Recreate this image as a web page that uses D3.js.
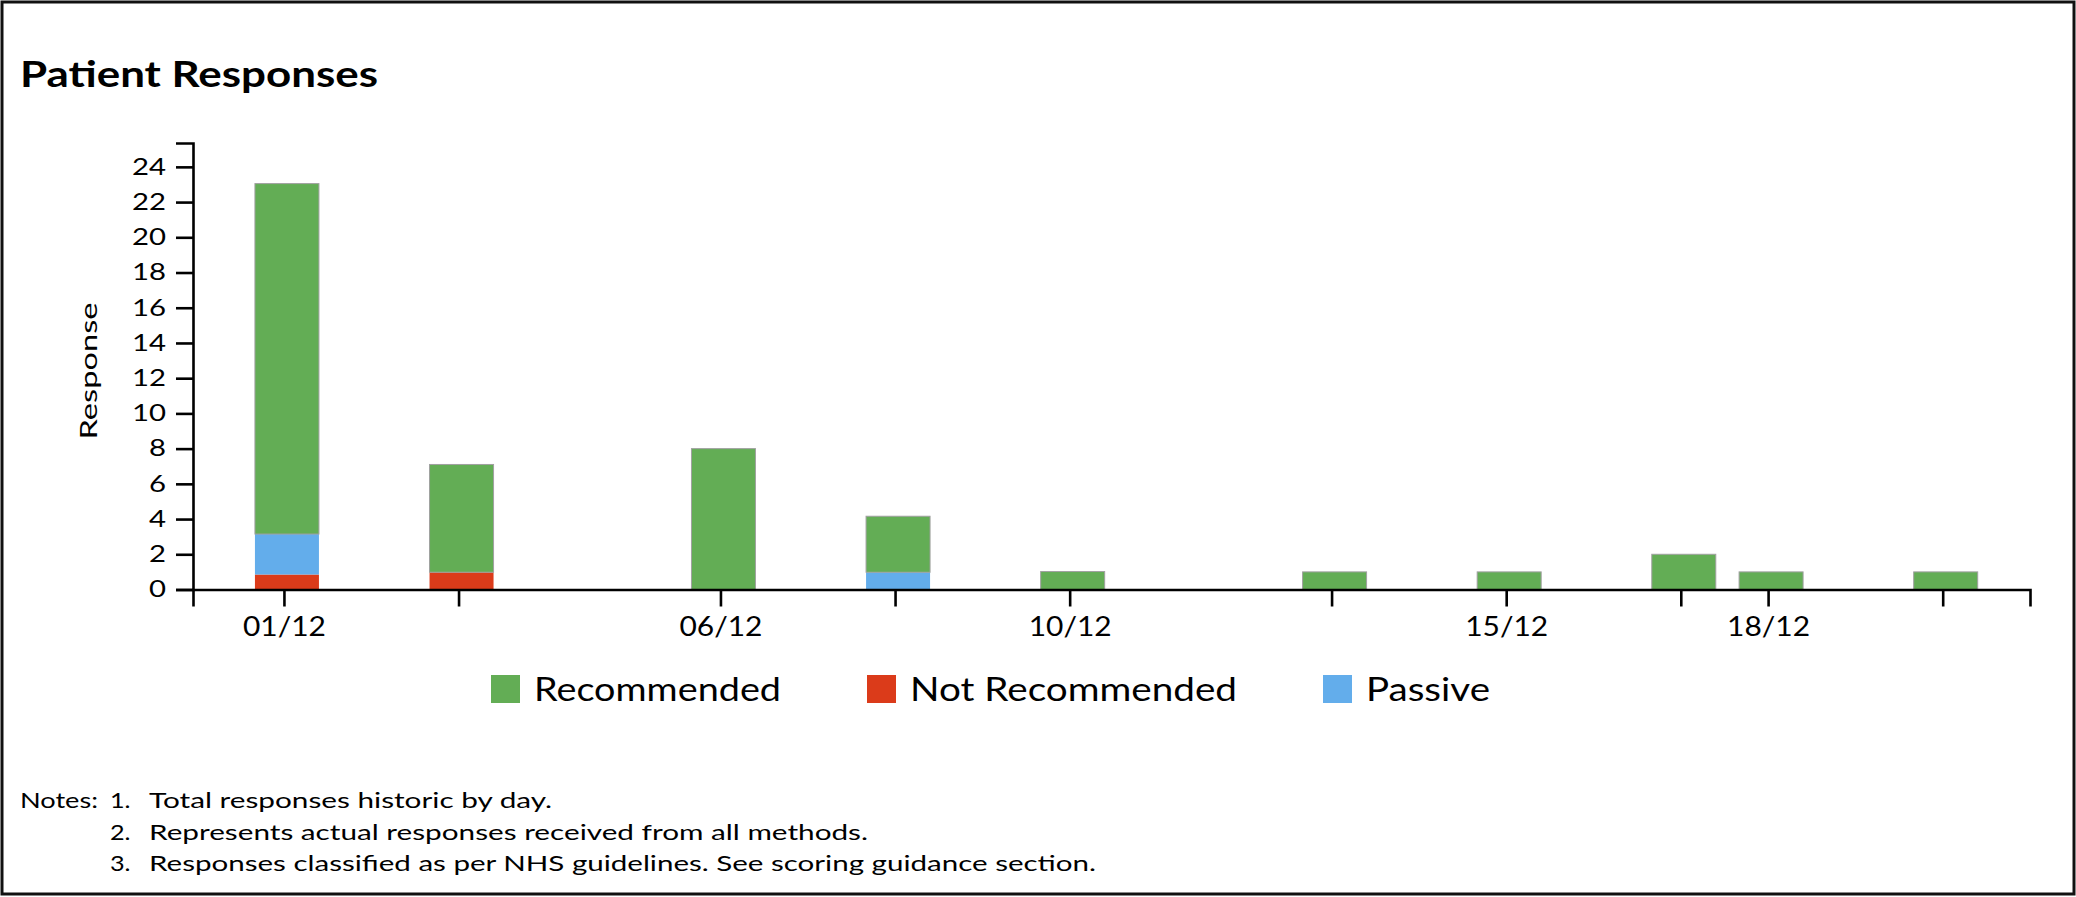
<!DOCTYPE html>
<html>
<head>
<meta charset="utf-8">
<script src="https://cdn.jsdelivr.net/npm/d3@7"></script>
<style>
  body { margin: 0; background: #fff; }
  svg { display: block; }
  text { font-family: Lato, "Open Sans", sans-serif; fill: #000; }
</style>
</head>
<body>
<svg id="chart" width="2076" height="897"></svg>
<script>
// ---------------- data ----------------
const dates = ["2023-12-01","2023-12-03","2023-12-06","2023-12-08","2023-12-10",
               "2023-12-13","2023-12-15","2023-12-17","2023-12-18","2023-12-20"];
const notRecommended = [0.85, 0.98, 0,   0,    0,    0, 0, 0, 0, 0];
const passive        = [2.3,  0,    0,   0.98, 0,    0, 0, 0, 0, 0];
const recommended    = [19.9, 6.12, 8.0, 3.18, 1.02, 1, 1, 2, 1, 1];
const seriesKeys   = ["notRecommended", "passive", "recommended"];
const legendNames  = ["Recommended", "Not Recommended", "Passive"];
const legendKeys   = ["recommended", "notRecommended", "passive"];
const seriesColors = { recommended: "#63ad55", notRecommended: "#db3b1a", passive: "#63adeb" };
const yTickValues  = [0, 2, 4, 6, 8, 10, 12, 14, 16, 18, 20, 22, 24];
const titleText = "Patient Responses";
const yLabel = "Response";
const noteLabel = "Notes:";
const noteNumbers = ["1.", "2.", "3."];
const noteTexts = [
  "Total responses historic by day.",
  "Represents actual responses received from all methods.",
  "Responses classified as per NHS guidelines. See scoring guidance section."
];

// ---------------- layout ----------------
const W = 2076, H = 897;
const plot = { left: 193, right: 2030, top: 143, bottom: 589.5 };
const svg = d3.select("#chart");
const parse = d3.timeParse("%Y-%m-%d");

const rows = dates.map((d, i) => ({
  date: parse(d),
  notRecommended: notRecommended[i],
  passive: passive[i],
  recommended: recommended[i]
}));

function fit(sel, w) { sel.attr("textLength", w).attr("lengthAdjust", "spacingAndGlyphs"); }
function stretch(sel, k) {
  sel.each(function () { d3.select(this).call(fit, this.getComputedTextLength() * k); });
}

// outer frame
svg.append("rect").attr("x", 2).attr("y", 2).attr("width", W - 4).attr("height", H - 5)
  .attr("fill", "none").attr("stroke", "#111").attr("stroke-width", 3);

// title
svg.append("text").attr("x", 20).attr("y", 87)
  .style("font-size", "37px").style("font-weight", 700)
  .text(titleText).call(fit, 358);

// scales
const first = rows[0].date, last = rows[rows.length - 1].date;
const x = d3.scaleTime()
  .domain([d3.timeHour.offset(d3.timeDay.offset(first, -1), -1), d3.timeDay.offset(last, 1)])
  .range([plot.left, plot.right]);
const yMax = d3.max(rows, r => r.notRecommended + r.passive + r.recommended) * 1.1;
const y = d3.scaleLinear().domain([0, yMax]).range([plot.bottom, plot.top]);

// bars
const stack = d3.stack().keys(seriesKeys)(rows);
const barW = 64;
svg.append("g").selectAll("g").data(stack).join("g")
  .attr("fill", s => seriesColors[s.key])
  .attr("stroke", s => s.key === "recommended" ? "#a0a0a0" : "none")
  .attr("stroke-width", 1)
  .selectAll("rect").data(s => s.filter(d => d[1] - d[0] > 0)).join("rect")
  .attr("x", d => x(d.data.date) - barW / 2 + 3)
  .attr("width", barW)
  .attr("y", d => y(d[1]))
  .attr("height", d => y(d[0]) - y(d[1]));

// axes
const fmt = d3.timeFormat("%d/%m");
const xAxis = d3.axisBottom(x)
  .tickValues(rows.map(r => r.date))
  .tickFormat((d, i) => i % 2 === 0 ? fmt(d) : "")
  .tickSize(17).tickPadding(11);
const gx = svg.append("g").attr("transform", `translate(0,${plot.bottom})`).call(xAxis);
gx.selectAll("text").style("font-size", "26px");

const yAxis = d3.axisLeft(y).tickValues(yTickValues).tickSize(17).tickPadding(10);
const gy = svg.append("g").attr("transform", `translate(${plot.left},0)`).call(yAxis);
gy.selectAll("text").style("font-size", "23px");

[gx, gy].forEach(g => {
  g.selectAll("path, line").attr("stroke", "#000").attr("stroke-width", 2.6);
  g.selectAll("text").attr("fill", "#000");
});

// horizontal stretch of tick labels to match the reference letterforms
function stretchTicks(g, sampleText, targetW) {
  const texts = g.selectAll("text").filter(function () { return this.textContent.length > 0; });
  const sample = texts.filter(function () { return this.textContent === sampleText; }).node();
  stretch(texts, targetW / sample.getComputedTextLength());
}
stretchTicks(gx, "01/12", 83);
stretchTicks(gy, "24", 34);

// y-axis title
svg.append("text")
  .attr("transform", "translate(97,371) rotate(-90)")
  .attr("text-anchor", "middle")
  .style("font-size", "24px")
  .text(yLabel).call(fit, 137);

// legend
const legendTextW = [247, 327, 124];
const legend = svg.append("g");
let lx = 491;
legendKeys.forEach((k, i) => {
  legend.append("rect").attr("x", lx).attr("y", 675).attr("width", 29).attr("height", 28)
    .attr("fill", seriesColors[k]);
  legend.append("text").attr("x", lx + 43).attr("y", 701)
    .style("font-size", "32px").text(legendNames[i]).call(fit, legendTextW[i]);
  lx += 43 + legendTextW[i] + 86;
});

// notes
const noteBase = [808, 840, 871];
const noteW = [403, 719, 947];
const notesG = svg.append("g").style("font-size", "21px");
notesG.append("text").attr("x", 20).attr("y", noteBase[0]).text(noteLabel).call(fit, 78);
noteTexts.forEach((t, i) => {
  notesG.append("text").attr("x", 110).attr("y", noteBase[i]).text(noteNumbers[i]).call(stretch, 1.2);
  notesG.append("text").attr("x", 149).attr("y", noteBase[i]).text(t).call(fit, noteW[i]);
});
</script>
</body>
</html>
